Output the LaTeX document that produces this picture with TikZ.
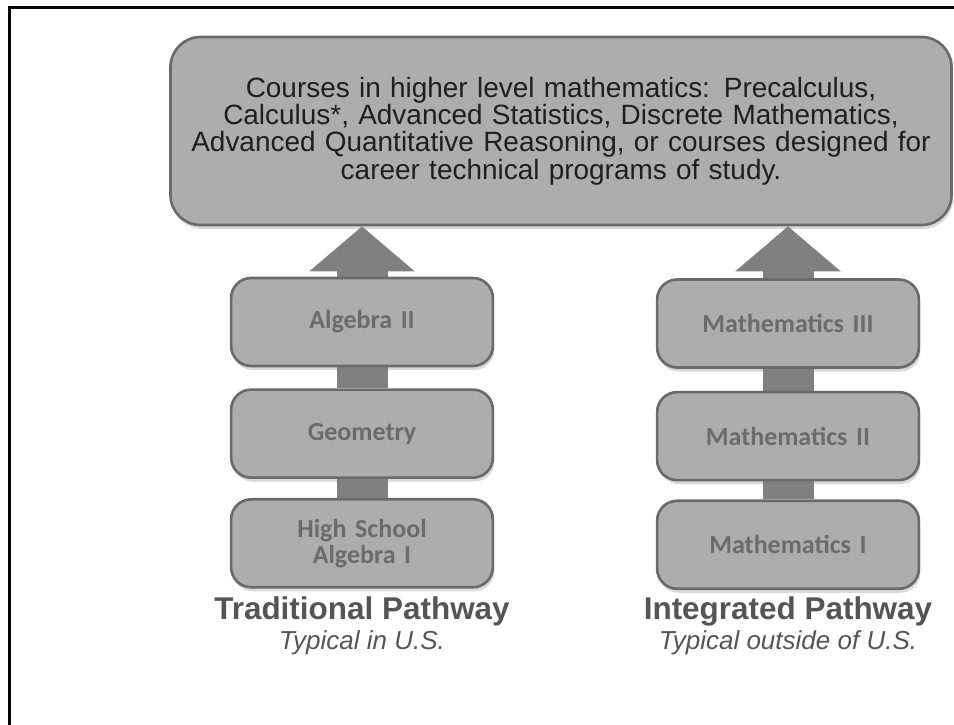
\documentclass[tikz,border=0pt]{standalone}
\usepackage{fontspec}
\setmainfont{Liberation Sans}
\newfontfamily\calibfont{Carlito}
\usetikzlibrary{positioning,arrows.meta,shadows,backgrounds}
\definecolor{boxgray}{HTML}{ADADAD}
\definecolor{rimgray}{HTML}{6A6A6A}
\definecolor{labelgray}{HTML}{6B6B6B}
\definecolor{arrowgray}{HTML}{808080}
\definecolor{titlegray}{HTML}{555555}
\tikzstyle{course} = [rectangle, rounded corners=0.4cm, draw=rimgray, line width=1.5pt, fill=boxgray, minimum width=5.2cm, minimum height=1.76cm, text width=5cm, align=center, text=labelgray, font=\calibfont\bfseries\fontsize{14.8}{14.8}\selectfont, drop shadow={shadow xshift=0.3mm, shadow yshift=-0.8mm, opacity=0.3}]
\tikzstyle{link} = [draw=arrowgray, line width=1.02cm]
\tikzstyle{pathname} = [inner sep=1pt, font=\bfseries\fontsize{17.9}{20}\selectfont, text=titlegray]
\tikzstyle{pathnote} = [inner sep=1pt, font=\itshape\fontsize{14.8}{16}\selectfont, text=titlegray]

\begin{document}
\begin{tikzpicture}

        \clip (0,0) rectangle (19.08,-14.48);
        \draw[line width=1.7pt] (19.5,-0.15) -- (0.19,-0.15) -- (0.19,-14.8);

        \node (goal) [course, rounded corners=0.6cm, minimum width=15.62cm, minimum height=3.76cm, text width=15.2cm, text=black!88, font=\fontsize{15.9}{15.6}\selectfont] at (11.22,-2.62) {Courses in higher level mathematics: Precalculus,\\ Calculus*, Advanced Statistics, Discrete Mathematics,\\ Advanced Quantitative Reasoning, or courses designed for\\ career technical programs of study.};

        % traditional pathway
        \node (alg2) [course] at (7.24,-6.44) {Algebra II};
        \node (geom) [course, below=0.42cm of alg2] {Geometry};
        \node (alg1) [course, below=0.38cm of geom] {High School\\ Algebra I};
        \node (tradname) [pathname] at (7.24,-12.22) {Traditional Pathway};
        \node (tradnote) [pathnote] at (7.24,-12.86) {Typical in U.S.};

        % integrated pathway
        \node (math3) [course] at (15.76,-6.47) {Mathematics III};
        \node (math2) [course, below=0.44cm of math3] {Mathematics II};
        \node (math1) [course, below=0.36cm of math2] {Mathematics I};
        \node (intname) [pathname] at (15.76,-12.22) {Integrated Pathway};
        \node (intnote) [pathnote] at (15.76,-12.86) {Typical outside of U.S.};

        \begin{scope}[on background layer]
            \draw[link] (alg1) -- (geom);
            \draw[link] (geom) -- (alg2);
            \draw[link, -{Triangle[width=2.06cm, length=0.9cm]}] (alg2) -- (goal.south -| alg2);
            \draw[link] (math1) -- (math2);
            \draw[link] (math2) -- (math3);
            \draw[link, -{Triangle[width=2.06cm, length=0.9cm]}] (math3) -- (goal.south -| math3);
        \end{scope}

    \end{tikzpicture}
\end{document}
